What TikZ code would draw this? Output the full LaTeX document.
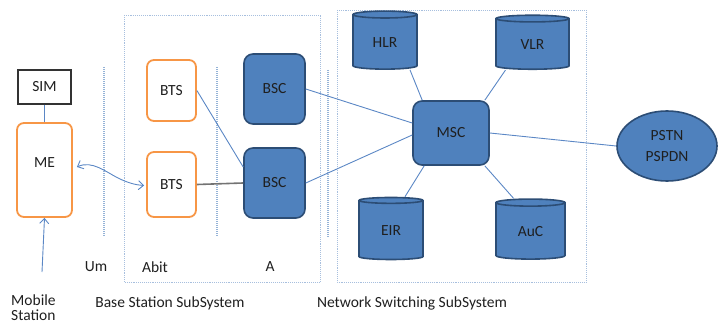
\documentclass[tikz,border=0pt]{standalone}
\usepackage{fontspec}
\setmainfont{Carlito}
\usetikzlibrary{shapes.geometric,arrows.meta,calc}
\definecolor{orangeln}{HTML}{F79646}
\definecolor{bluefill}{HTML}{4F81BD}
\definecolor{blueedge}{HTML}{2C4D75}
\definecolor{linkblue}{HTML}{5B87C5}
\definecolor{zoneblue}{HTML}{A7BFDE}
\definecolor{sepblue}{HTML}{95B3D7}
\tikzset{
  every node/.style={font=\fontsize{15.5}{18}\selectfont, text=black!88},
  mebox/.style={draw=orangeln, line width=1.8pt, rounded corners=7pt, fill=white},
  simbox/.style={draw=black!80, line width=1.3pt, fill=white},
  ctrl/.style={draw=blueedge, fill=bluefill, line width=1.6pt, rounded corners=9pt},
  db/.style={cylinder, shape border rotate=90, aspect=0.22, draw=blueedge,
             fill=bluefill, line width=1.6pt},
  link/.style={draw=linkblue, line width=0.9pt},
  sep/.style={draw=sepblue, line width=1.6pt, dash pattern=on 1pt off 1pt},
  zone/.style={draw=zoneblue, line width=0.9pt, densely dotted},
  tip/.style={-{Straight Barb[length=5pt,width=9pt]}}
}
\begin{document}
\begin{tikzpicture}[x=1pt,y=-1pt]
\useasboundingbox (0,0) rectangle (719,326);

% subsystem frames
\draw[zone] (124,15) rectangle (320,282);
\draw[zone] (337,10) rectangle (586,282);

% interface separators
\draw[sep] (104,67) -- (104,237);
\draw[sep] (217,67) -- (217,237);
\draw[sep] (328,70) -- (328,237);

% mobile station
\node[simbox, minimum width=53pt, minimum height=34pt] (sim) at (44.5,87) {SIM};
\node[mebox, minimum width=55pt, minimum height=94pt] (me) at (44.5,170) {};
\node at (44.5,163) {ME};
\coordinate (user) at (42,272);

% base station subsystem
\node[mebox, minimum width=49pt, minimum height=61pt] (bts1) at (171.5,90.5) {BTS};
\node[mebox, minimum width=49pt, minimum height=65pt] (bts2) at (171.5,184.5) {BTS};
\node[ctrl, minimum width=61pt, minimum height=70pt] (bsc1) at (274.5,89) {BSC};
\node[ctrl, minimum width=61pt, minimum height=70pt] (bsc2) at (274.5,183) {BSC};

% network switching subsystem
\node[ctrl, minimum width=76pt, minimum height=64pt] (msc) at (451,133) {MSC};
\node[db, minimum width=64pt, minimum height=58pt] (hlr) at (385,43) {HLR};
\node[db, minimum width=73pt, minimum height=54pt] (vlr) at (532.5,45) {VLR};
\node[db, minimum width=64pt, minimum height=62pt] (eir) at (391,231) {EIR};
\node[db, minimum width=69pt, minimum height=60pt] (auc) at (530.5,232) {AuC};
\node[ellipse, draw=blueedge, fill=bluefill, line width=1.6pt,
      minimum width=100pt, minimum height=70pt, align=center,
      font=\fontsize{15.5}{21}\selectfont] (pstn) at (667,146) {PSTN\\PSPDN};

% connections
\draw[link] (sim.south) -- (me.north);
\draw[link, tip] (user) -- (me.south);
\draw[link, {Straight Barb[length=5pt,width=9pt]}-{Straight Barb[length=5pt,width=9pt]}]
  ($(me.east)+(4,-3)$) .. controls (92,160) and (106,172) .. (118,178)
  .. controls (128,183) and (136,185) .. ($(bts2.west)+(-2,1)$);
\draw[link] (bts1.east) -- ($(bsc2.west)+(0,-16)$);
\draw[draw=black!55, line width=1.6pt] (bts2.east) -- (bsc2.west);
\draw[link] (bsc1.east) -- ($(msc.west)+(0,-10)$);
\draw[link] (bsc2.east) -- ($(msc.west)+(0,2)$);
\draw[link] ($(hlr.south)+(25,0)$) -- ($(msc.north west)+(10,0)$);
\draw[link] ($(vlr.south)+(-27,0)$) -- ($(msc.north east)+(-5,0)$);
\draw[link] ($(eir.north)+(14,0)$) -- ($(msc.south west)+(12,0)$);
\draw[link] ($(auc.north)+(-17,0)$) -- ($(msc.south east)+(-5,0)$);
\draw[link] (msc.east) -- (pstn.west);

% interface and subsystem labels
\node at (96,267) {Um};
\node at (155,267) {Abit};
\node at (270,267) {A};
\node[anchor=north west, align=left, inner sep=0pt,
      font=\fontsize{15.5}{15}\selectfont] (mslabel) at (11,295) {Mobile\\Station};
\node (bsslabel) at (170,303) {Base Station SubSystem};
\node (nsslabel) at (412,303) {Network Switching SubSystem};
\end{tikzpicture}
\end{document}
